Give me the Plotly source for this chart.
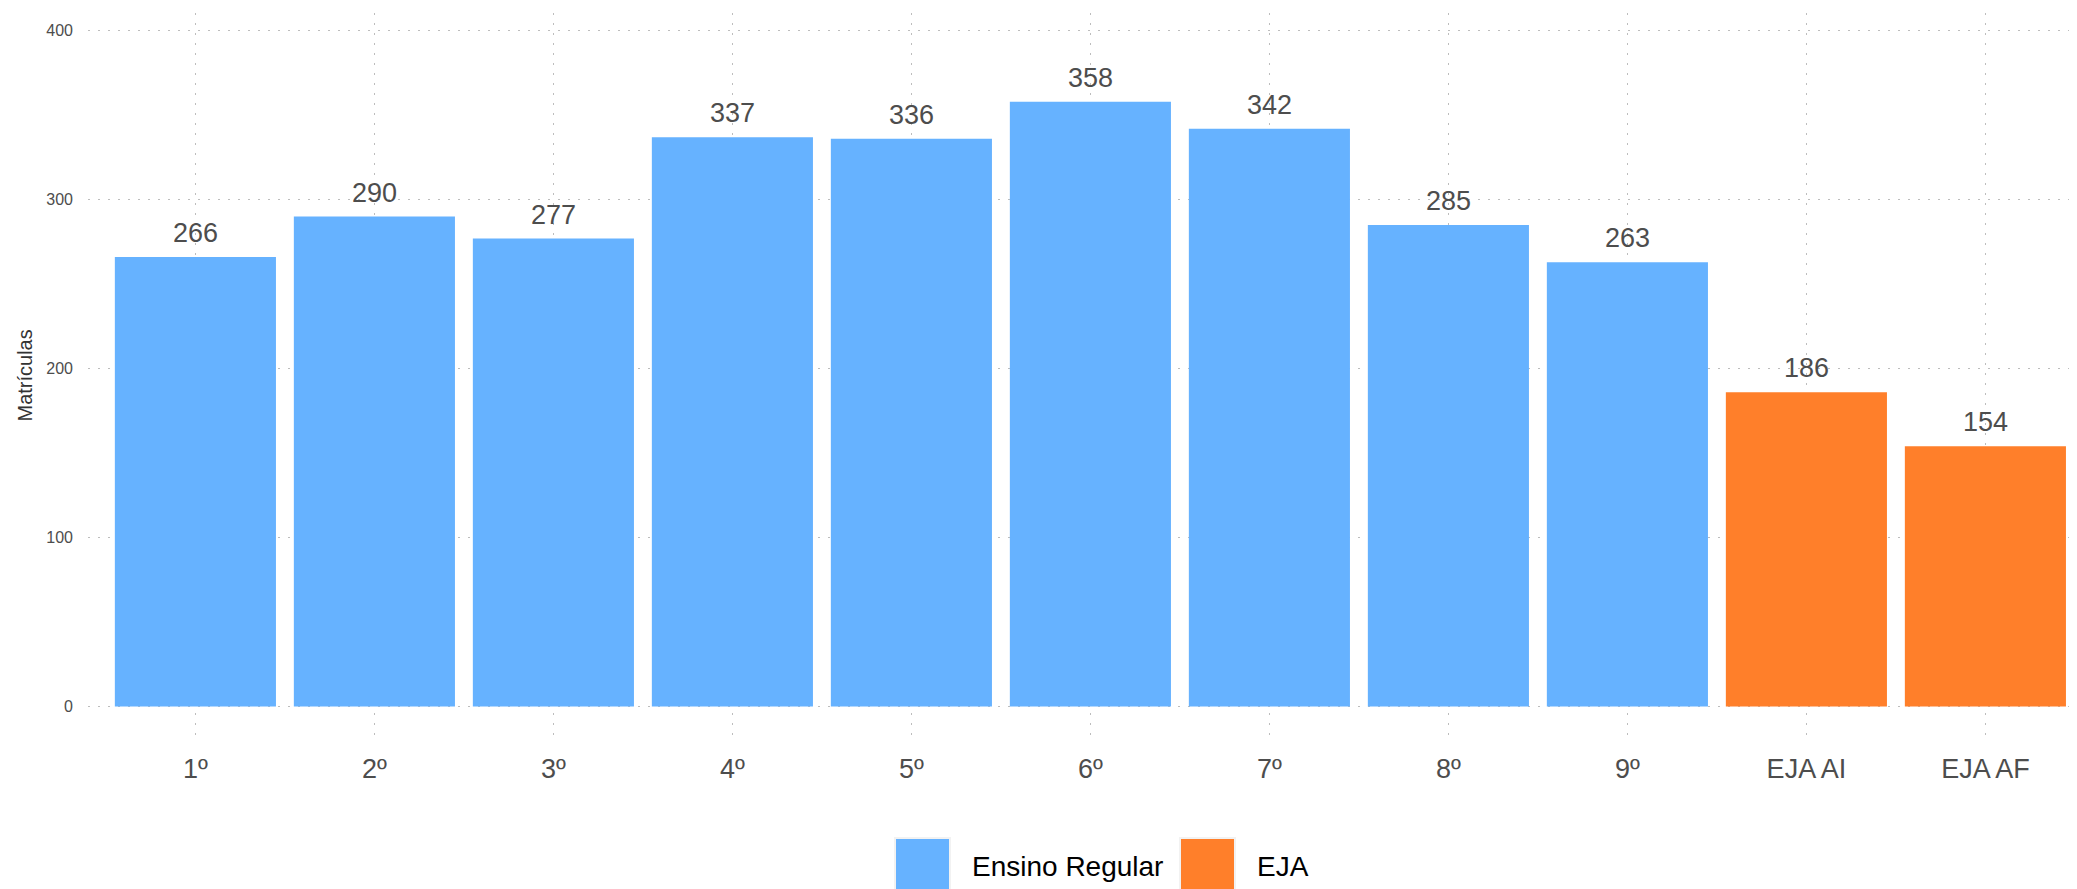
import plotly.graph_objects as go

categories = ["1º", "2º", "3º", "4º", "5º", "6º", "7º", "8º", "9º", "EJA AI", "EJA AF"]
values = [266, 290, 277, 337, 336, 358, 342, 285, 263, 186, 154]
groups = ["Ensino Regular"] * 9 + ["EJA"] * 2
y_ticks = [0, 100, 200, 300, 400]
legend_names = ["Ensino Regular", "EJA"]
colors = {"Ensino Regular": "#66B2FF", "EJA": "#FF7F2A"}

OFF = 8  # page body margin
W, H = 2077 - OFF, 889 - OFF
L, R, T = 88 - OFF, 0, 13 - OFF
ph = 725
B = H - T - ph
pw = W - L - R

FONT = "Liberation Sans, Arial, sans-serif"
GRID_DASH = "2px,8px"

fig = go.Figure()
fig.add_trace(go.Bar(
    x=list(range(len(categories))),
    y=values,
    marker=dict(color=[colors[g] for g in groups], line=dict(width=0)),
    width=0.9,
    showlegend=False,
    hoverinfo="x+y",
))

annotations = []
for i, v in enumerate(values):
    annotations.append(dict(
        x=i, y=v, xref="x", yref="y", text=str(v), showarrow=False,
        yanchor="bottom", yshift=7,
        font=dict(family=FONT, size=27, color="#4D4D4D"),
    ))

def px_x(p):
    return (p - OFF - L) / pw

def px_y(p):
    return (T + ph - (p - OFF)) / ph

# y axis title
annotations.append(dict(
    x=px_x(24), y=0.5, xref="paper", yref="paper", text="Matrículas",
    textangle=-90, showarrow=False, xanchor="center", yanchor="middle",
    font=dict(family=FONT, size=20, color="#333333"),
))

shapes = []
legend_layout = [(895, 970), (1180, 1255)]
for name, (sx, tx) in zip(legend_names, legend_layout):
    shapes.append(dict(
        type="rect", xref="paper", yref="paper",
        x0=px_x(sx), x1=px_x(sx + 55), y0=px_y(838), y1=px_y(893),
        fillcolor=colors[name], line=dict(color="#F2F2F2", width=2),
    ))
    annotations.append(dict(
        x=px_x(tx), y=px_y(866), xref="paper", yref="paper", text=name,
        showarrow=False, xanchor="left", yanchor="middle",
        font=dict(family=FONT, size=28, color="#000000"),
    ))

fig.update_layout(
    width=W, height=H,
    margin=dict(l=L, r=R, t=T, b=B, pad=0),
    plot_bgcolor="white", paper_bgcolor="white",
    annotations=annotations, shapes=shapes,
    showlegend=False,
    font=dict(family=FONT),
)
fig.update_xaxes(
    range=[-0.6, -0.6 + pw / 179.0],
    tickmode="array", tickvals=list(range(len(categories))), ticktext=categories,
    showgrid=True, gridcolor="#BDBDBD", griddash=GRID_DASH, gridwidth=1,
    zeroline=False, showline=False, ticks="",
    tickfont=dict(size=27, color="#4D4D4D"),
    ticklabelstandoff=12,
)
fig.update_yaxes(
    range=[-18.7, 410.5],
    tickmode="array", tickvals=y_ticks, ticktext=[str(t) for t in y_ticks],
    showgrid=True, gridcolor="#BDBDBD", griddash=GRID_DASH, gridwidth=1,
    zeroline=False, showline=False, ticks="",
    tickfont=dict(size=16, color="#4D4D4D"),
    ticklabelstandoff=14,
)

fig.write_html("out.html")
